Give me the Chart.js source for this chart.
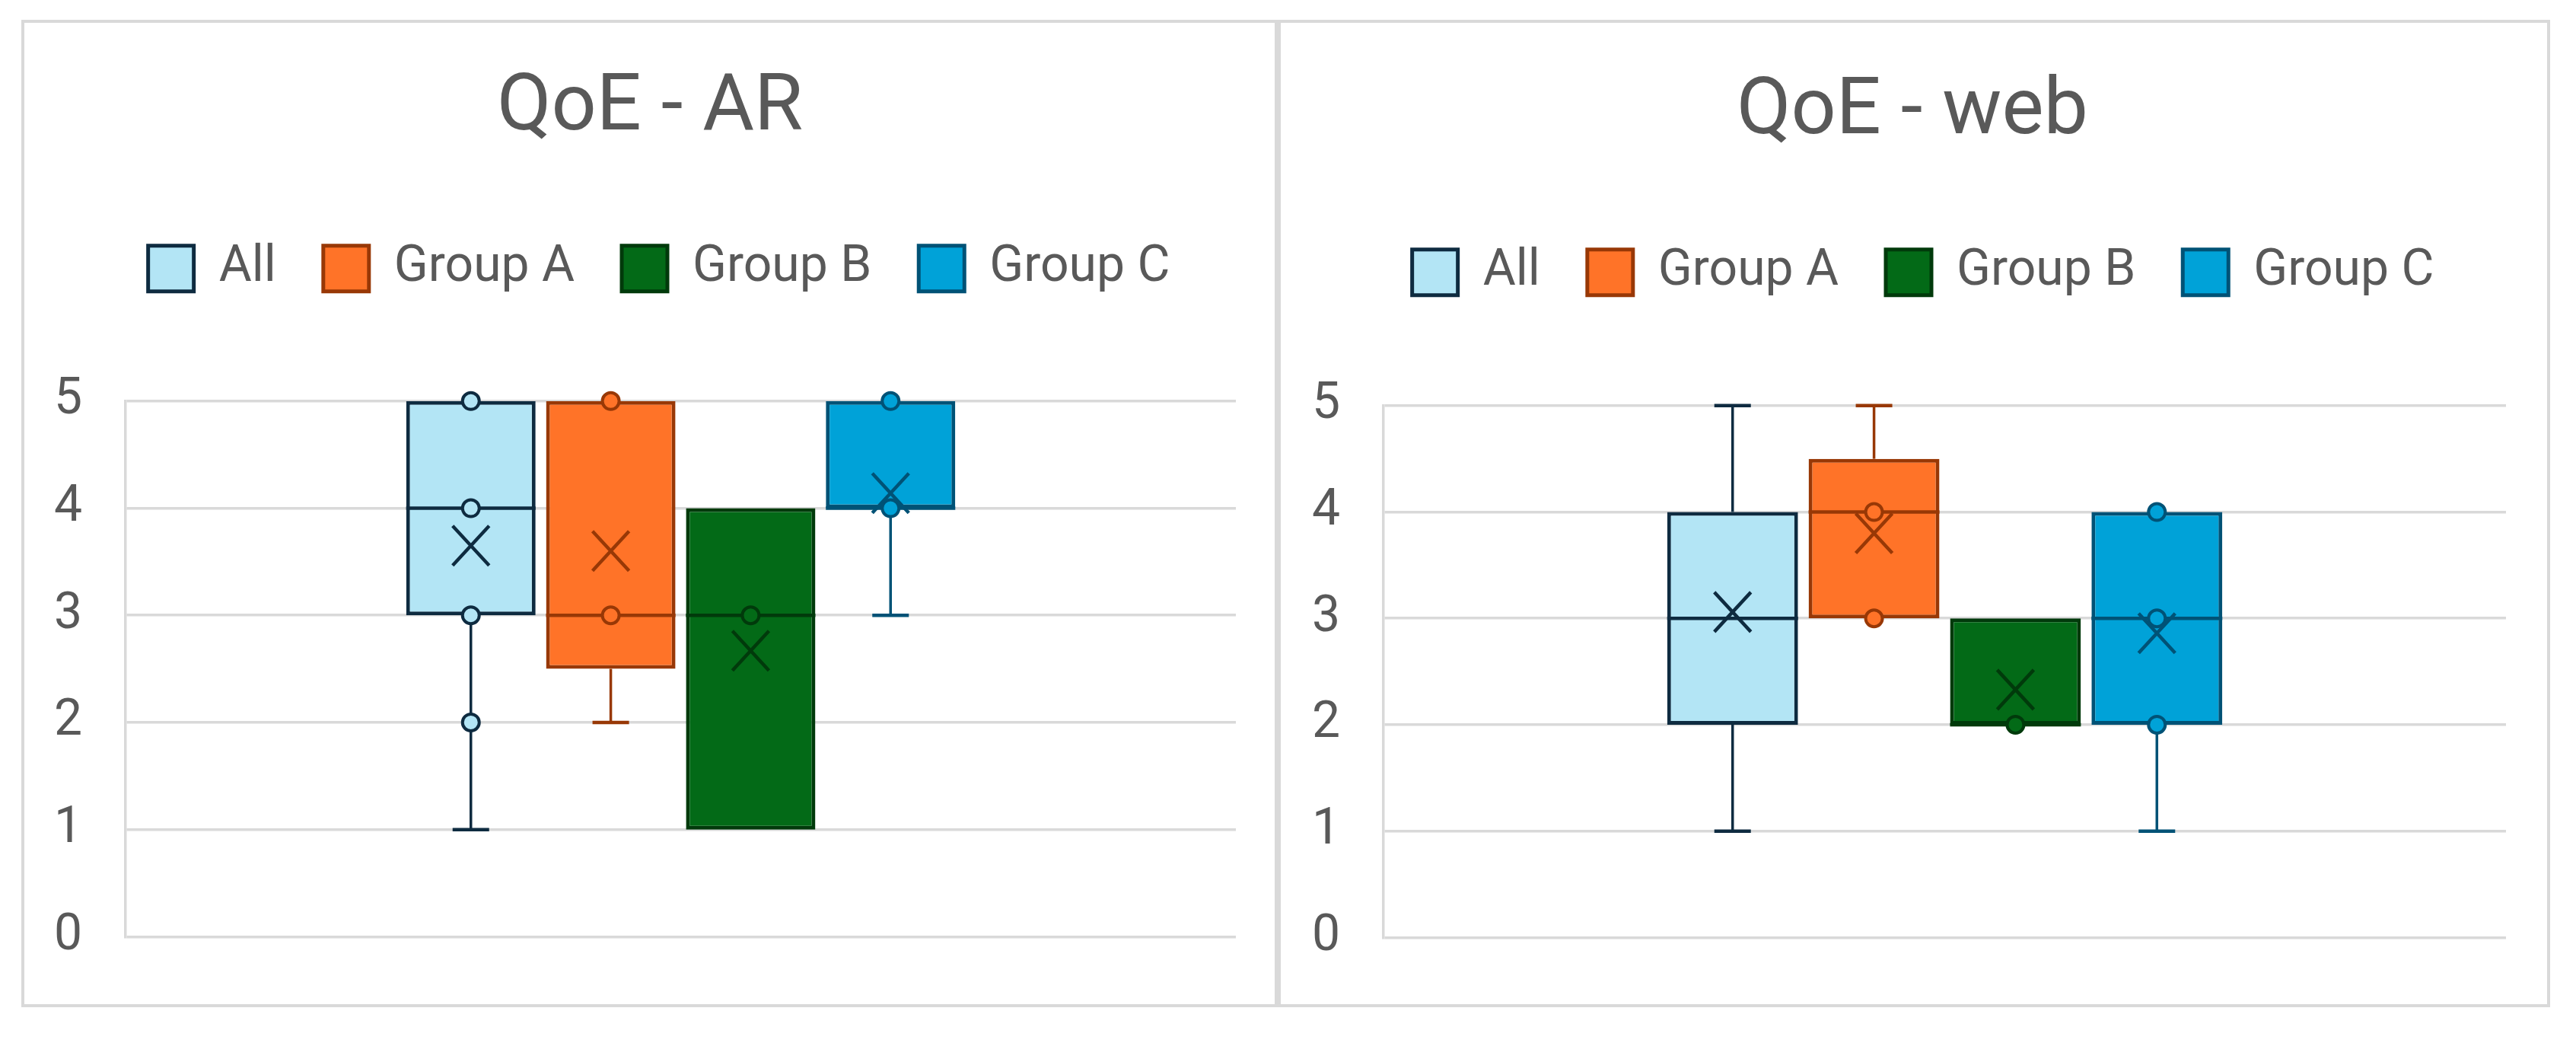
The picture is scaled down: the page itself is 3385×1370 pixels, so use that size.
<!DOCTYPE html>
<html>
<head>
<meta charset="utf-8">
<script src="https://cdn.jsdelivr.net/npm/chart.js@4.4.1/dist/chart.umd.min.js"></script>
<style>
  html, body { margin: 0; padding: 0; background: #ffffff; }
  body { width: 3385px; height: 1370px; position: relative; overflow: hidden; }
  .frame { position: absolute; top: 26px; height: 1297px; box-sizing: border-box; border: 4px solid #d9d9d9; background: #fff; overflow: hidden; }
  .frame canvas { display: block; }
</style>
</head>
<body>
<div class="frame" style="left:28px; width:1651px;"><canvas id="chartAR" width="1643" height="1297"></canvas></div>
<div class="frame" style="left:1679px; width:1672px;"><canvas id="chartWeb" width="1664" height="1298"></canvas></div>

<script>
// groups shown in both charts
const categories = ["All", "Group A", "Group B", "Group C"];
const fills = ["#b3e5f5", "#ff7328", "#036a17", "#00a2d8"];
const borders = ["#0e2b40", "#983806", "#013a0b", "#005276"];
const yTicks = [0, 1, 2, 3, 4, 5];

// QoE - AR
const arMin = [1, 2, 1, 3];
const arQ1 = [3, 2.5, 1, 4];
const arMedian = [4, 3, 3, 4];
const arQ3 = [5, 5, 4, 5];
const arMax = [5, 5, 4, 5];
const arMean = [3.65, 3.6, 2.67, 4.14];
const arPoints = [[5, 4, 3, 2], [5, 3], [3], [5, 4]];

// QoE - web
const webMin = [1, 3, 2, 1];
const webQ1 = [2, 3, 2, 2];
const webMedian = [3, 4, 2, 3];
const webQ3 = [4, 4.5, 3, 4];
const webMax = [5, 5, 3, 4];
const webMean = [3.06, 3.8, 2.33, 2.86];
const webPoints = [[], [4, 3], [2], [4, 3, 2]];

const textColor = "#595959";
const gridColor = "#d9d9d9";

// whiskers, median, mean cross and inner points on top of the floating bars
const boxExtras = {
  id: "boxExtras",
  afterDatasetsDraw(chart, args, opts) {
    const ctx = chart.ctx;
    const y = chart.scales.y;
    chart.data.datasets.forEach((ds, i) => {
      const bar = chart.getDatasetMeta(i).data[0];
      const cx = bar.x;
      const w = bar.width;
      ctx.save();
      ctx.strokeStyle = borders[i];

      // whiskers + caps
      const drawWhisker = (from, to) => {
        if (to === from) return;
        ctx.lineWidth = 3.5;
        ctx.beginPath();
        ctx.moveTo(cx, y.getPixelForValue(from));
        ctx.lineTo(cx, y.getPixelForValue(to));
        ctx.stroke();
        ctx.lineWidth = 4.5;
        ctx.beginPath();
        ctx.moveTo(cx - 24, y.getPixelForValue(to));
        ctx.lineTo(cx + 24, y.getPixelForValue(to));
        ctx.stroke();
      };
      drawWhisker(opts.q3[i], opts.max[i]);
      drawWhisker(opts.q1[i], opts.min[i]);

      // median
      ctx.lineWidth = 4.5;
      const my = y.getPixelForValue(opts.median[i]);
      ctx.beginPath();
      ctx.moveTo(cx - w / 2, my);
      ctx.lineTo(cx + w / 2, my);
      ctx.stroke();

      // inner points
      ctx.lineWidth = 4;
      ctx.fillStyle = fills[i];
      opts.points[i].forEach((v) => {
        ctx.beginPath();
        ctx.arc(cx, y.getPixelForValue(v), 11, 0, Math.PI * 2);
        ctx.fill();
        ctx.stroke();
      });

      // mean
      const meanY = y.getPixelForValue(opts.mean[i]);
      ctx.lineWidth = 4.5;
      ctx.beginPath();
      ctx.moveTo(cx - 24, meanY - 26);
      ctx.lineTo(cx + 24, meanY + 26);
      ctx.moveTo(cx + 24, meanY - 26);
      ctx.lineTo(cx - 24, meanY + 26);
      ctx.stroke();
      ctx.restore();
    });
  },
};

// extra space below the legend, and sideways nudges of title and legend
function headerTweak(extra, titleDx, legendDx) {
  const shift = (box, ctx, dx) => {
    const draw = box.draw;
    box.draw = function () {
      ctx.save();
      ctx.translate(dx, 0);
      draw.call(this);
      ctx.restore();
    };
  };
  return {
    id: "headerTweak",
    beforeInit(chart) {
      const legend = chart.legend;
      const fit = legend.fit;
      legend.fit = function () {
        fit.call(this);
        this.height += extra;
      };
      shift(legend, chart.ctx, legendDx);
      shift(chart.titleBlock, chart.ctx, titleDx);
    },
  };
}

function makeChart(id, title, q1, median, q3, min, max, mean, points, cfg) {
  const ctx = document.getElementById(id).getContext("2d");
  return new Chart(ctx, {
    type: "bar",
    data: {
      labels: [""],
      datasets: categories.map((name, i) => ({
        label: name,
        data: [[q1[i], q3[i]]],
        backgroundColor: fills[i],
        borderColor: borders[i],
        borderWidth: 5,
        borderSkipped: false,
        categoryPercentage: 0.504,
        barPercentage: 0.925,
      })),
    },
    plugins: [boxExtras, headerTweak(cfg.gap, cfg.titleDx, cfg.legendDx)],
    options: {
      responsive: false,
      animation: false,
      devicePixelRatio: 1,
      layout: { padding: { top: cfg.top, left: cfg.left, right: cfg.right, bottom: 60 } },
      plugins: {
        tooltip: { enabled: false },
        title: {
          display: true,
          text: title,
          color: textColor,
          font: { family: "Roboto", size: 104, weight: "normal" },
          padding: { top: 52, bottom: 51 },
        },
        legend: {
          display: true,
          position: "top",
          labels: {
            color: textColor,
            font: { family: "Roboto", size: 66 },
            boxWidth: 60,
            boxHeight: 60,
            padding: 62,
          },
        },
        boxExtras: { q1, median, q3, min, max, mean, points },
      },
      scales: {
        x: { display: false },
        y: {
          min: 0,
          max: 5,
          afterBuildTicks: (axis) => {
            axis.ticks = yTicks.map((v) => ({ value: v }));
          },
          afterFit: (axis) => {
            axis.width = cfg.axisWidth;
          },
          ticks: {
            color: textColor,
            font: { family: "Roboto", size: 66 },
            padding: 57,
          },
          grid: { color: gridColor, lineWidth: 3.5, drawTicks: false },
          border: { display: true, color: gridColor, width: 3.5 },
        },
      },
    },
  });
}

makeChart("chartAR", "QoE - AR", arQ1, arMedian, arQ3, arMin, arMax, arMean, arPoints,
  { top: 0, left: 20, right: 51, axisWidth: 113, gap: 131, titleDx: 16, legendDx: 28 });
makeChart("chartWeb", "QoE - web", webQ1, webMedian, webQ3, webMin, webMax, webMean, webPoints,
  { top: 5, left: 20, right: 54, axisWidth: 115, gap: 132, titleDx: 15, legendDx: 29 });
</script>
</body>
</html>
